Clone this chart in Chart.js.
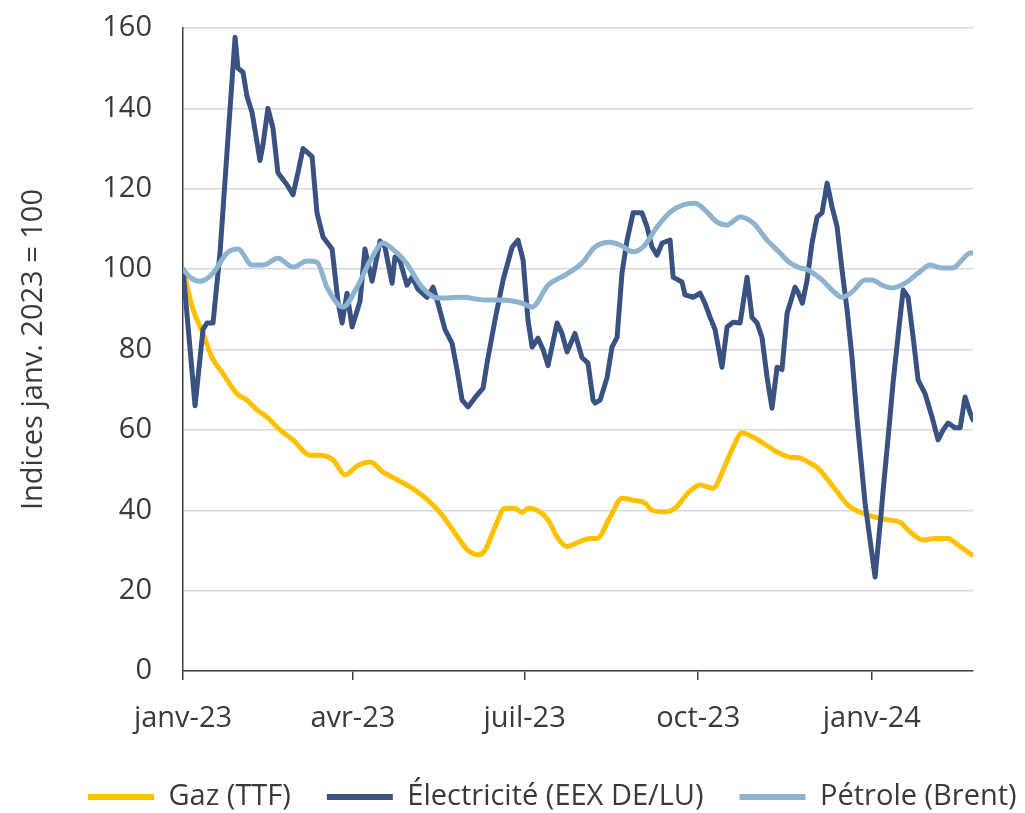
<!DOCTYPE html>
<html><head><meta charset="utf-8">
<script src="https://cdn.jsdelivr.net/npm/chart.js@4"></script>
<style>html,body{margin:0;padding:0;background:#fff}</style>
</head><body>
<canvas id="c" width="1025" height="813"></canvas>
<script>
// ---- Data (days since 1 Jan 2023, index Jan 2023 = 100) ----
const tickDays = [0, 90, 181, 273, 365];
const tickLabels = ['janv-23', 'avr-23', 'juil-23', 'oct-23', 'janv-24'];
const seriesNames = ['Gaz (TTF)', 'Électricité (EEX DE/LU)', 'Pétrole (Brent)'];
const yAxisTitle = 'Indices janv. 2023 = 100';

const gazDays = [0,5.3,10.6,15.4,21.2,28.6,33.9,39.2,45,51.4,58.3,67.3,72.6,79.5,85.9,92.2,99.1,106,113.9,121.4,129.8,137.3,144.1,151,156.3,160,165.3,170.6,175.9,179.7,182.8,189.2,193.4,198.7,203.5,209.3,215.7,219.4,226.3,232.6,238.5,244.8,248.5,255.4,260.7,267.6,274,280.9,286.2,291.5,296.2,302.1,307.4,314.8,321.7,327,331.2,336.5,341.8,347.1,352.4,359.8,366.7,373.6,380,385.3,392.2,398.5,405.4,410.7,418.1];
const gazValues = [100,90,84,78,74,69,67.4,65,63,60,57.5,53.7,53.7,52.5,48.8,51,52,49.5,47.5,45.5,42.5,38.8,34.3,30,28.9,30,35.8,40.5,40.5,39.4,40.5,39.6,37.6,33,31,32,33,33,38.3,43,42.5,41.8,40,39.6,40.5,44.3,46.3,45.5,50,55.7,59.2,58.2,56.7,54.5,53.2,53,52,50.5,47.5,44.3,41.3,39.3,38.3,37.6,37,34.6,32.6,33,33,31.3,28.9];

const elecDays = [0,6.4,10.6,12.7,15.9,19.6,23.3,27.6,29.1,31.8,33.9,36.6,40.8,42.4,45,47.7,50.3,55.1,58.3,60.9,63.6,68.4,71,74.2,79,82.1,84.3,86.9,89.6,93.8,96.4,100.2,104.4,107,110.8,112.3,115,118.7,121.4,124.5,129.3,132.5,135.1,138.8,142.6,145.2,147.9,151,154.7,159,161.1,165.3,169.6,174.4,177.5,180.2,182.8,185,188.1,190.8,193.4,198.2,200.8,203.5,207.7,211.4,214.6,217.3,218.3,221,224.7,227.3,230,232.6,235.3,238.5,243.2,245.9,248.5,251.2,253.9,258.1,259.7,264.4,266,270.3,274,276.6,279.3,281.9,285.6,288.3,291.5,295.2,298.9,301.5,304.2,306.8,309.5,312.1,314.8,317.4,320.1,324.3,326.1,328.2,330.7,333.3,336,338.6,341.3,343.9,346.6,349.2,351.9,354.5,357.2,361.4,366.7,369.9,371,373.6,376.3,379.5,381.6,384.2,386.9,389.5,393.2,396.9,400.1,402.8,405.4,409.1,411.8,414.4,417.1,418.6];
const elecValues = [100,66,85,86.6,86.6,104,129,157.7,150,149,143,139,127,131,140,135,124,121,118.5,124,130,128,114,108,105,92,86.6,94,85.6,92,105,97,107,105.5,96.5,103,102,96,98,95,93,95.5,91.5,85,81.5,75,67.4,65.7,68,70.4,76.6,87.3,97.3,105.5,107.2,102.3,87.3,80.6,82.8,80,76,86.6,84,79.4,84,78,76.6,67.4,66.7,67.4,73,80.6,83,99,107.2,114,114,110.5,105.5,103.5,106.5,107.2,98,96.8,93.6,93,94,91.5,88,85,75.6,85.6,86.8,86.6,98,88,86.6,83,73,65.4,75.6,75,89,95.5,94,91.5,97.3,106.5,113,114,121.4,115.5,110.5,99.8,89.8,78,62.5,41.8,23.4,39,45,58,72,86,94.8,93,83,72.4,69,63.2,57.5,60,61.7,60.5,60.5,68.2,64.2,62.5];

const brentDays = [0,3.7,9,15.9,23.3,29.1,36.6,42.4,50.3,58.3,65.7,71,76.3,84.8,92.2,99.1,106,109.7,117.6,126.7,135.1,147.9,160,169,179.7,185,193.4,202.4,211.4,218.3,226.3,231.6,238.5,243.8,251.2,258.1,265,271.3,276.6,283,288.3,295.2,302.1,309.5,316.4,321.7,327,331.2,338.6,343.9,349.2,354.5,361.4,365.1,370.4,375.7,382.6,389.5,395.9,402.2,408,412.8,417.1,418.6];
const brentValues = [100,98,97,99,104,105,101,101,102.7,100.5,102,101.7,95.5,90.6,95.5,102,106.5,105.5,102,95.5,92.8,93,92.3,92.3,91.5,90.6,96,98.5,101.5,105.5,106.7,106,104.3,105.5,110.5,114.2,116,116.4,114.7,111.7,111,113,111.5,107.2,104,101.5,100.3,99.8,97.3,94.8,93,94.3,97.3,97.3,96,95.3,96.5,99,101,100.3,100.3,102.3,104,104];

const xMax = 418.6;
const colors = ['#FFC000', '#3A5282', '#8DB3CF'];

const pts = (d, v) => d.map((x, i) => ({x: x, y: v[i]}));
const FONT = "'Open Sans', sans-serif";
const TXT = '#3a3a3a';

const legendPlace = {
  id: 'legendPlace',
  afterUpdate(chart) {
    const lg = chart.legend;
    if (!lg || !lg.legendHitBoxes || !lg.legendHitBoxes.length) return;
    const hb = lg.legendHitBoxes[0];
    const dx = 88 - hb.left;
    const dy = 797 - (hb.top + hb.height / 2);
    lg.left += dx; lg.right += dx; lg.top += dy; lg.bottom += dy;
    lg.legendHitBoxes.forEach(h => { h.left += dx; h.top += dy; });
  }
};

new Chart(document.getElementById('c'), {
  type: 'line',
  data: {
    datasets: [
      {label: seriesNames[0], data: pts(gazDays, gazValues), borderColor: colors[0], backgroundColor: colors[0], order: 3, cubicInterpolationMode: 'monotone'},
      {label: seriesNames[1], data: pts(elecDays, elecValues), borderColor: colors[1], backgroundColor: colors[1], order: 2, tension: 0},
      {label: seriesNames[2], data: pts(brentDays, brentValues), borderColor: colors[2], backgroundColor: colors[2], order: 1, cubicInterpolationMode: 'monotone'}
    ]
  },
  options: {
    responsive: false,
    animation: false,
    devicePixelRatio: 1,
    layout: {padding: {top: 28, left: 0, right: 0, bottom: 0}},
    elements: {
      point: {radius: 0, hoverRadius: 0},
      line: {borderWidth: 5, borderJoinStyle: 'round', borderCapStyle: 'round', fill: false}
    },
    plugins: {
      tooltip: {enabled: false},
      legend: {
        position: 'bottom',
        align: 'center',
        labels: {
          font: {family: FONT, size: 29},
          color: TXT,
          boxWidth: 66,
          boxHeight: 6,
          padding: 36,
          sort: (a, b) => a.datasetIndex - b.datasetIndex,
          generateLabels: (chart) => Chart.defaults.plugins.legend.labels.generateLabels(chart).map(l => Object.assign(l, {lineWidth: 0}))
        }
      }
    },
    scales: {
      x: {
        type: 'linear',
        min: 0,
        max: xMax,
        afterBuildTicks: (s) => { s.ticks = tickDays.map(v => ({value: v})); },
        afterFit: (s) => { s.height = 67; },
        grid: {drawOnChartArea: false, drawTicks: true, tickLength: 9, color: '#404040', lineWidth: 1.5},
        border: {display: true, color: '#404040', width: 1.5},
        ticks: {
          autoSkip: false,
          maxRotation: 0,
          padding: 21,
          color: TXT,
          font: {family: FONT, size: 29},
          callback: (v) => { const i = tickDays.indexOf(v); return i >= 0 ? tickLabels[i] : ''; }
        }
      },
      y: {
        min: 0,
        max: 160,
        afterFit: (s) => { s.width = 183; s.paddingTop = 0; s.paddingBottom = 0; },
        grid: {color: '#d9d9d9', lineWidth: 1.5, drawTicks: false},
        border: {display: true, color: '#404040', width: 1.5},
        ticks: {stepSize: 20, padding: 31, color: TXT, font: {family: FONT, size: 29}},
        title: {display: true, text: yAxisTitle, color: TXT, font: {family: FONT, size: 29}, padding: {top: 16, bottom: 0}}
      },
      yRight: {
        position: 'right',
        display: true,
        afterFit: (s) => { s.width = 52; s.paddingTop = 0; s.paddingBottom = 0; },
        grid: {display: false, drawOnChartArea: false},
        border: {display: false},
        ticks: {display: false}
      }
    }
  },
  plugins: [legendPlace]
});
</script>
</body></html>
